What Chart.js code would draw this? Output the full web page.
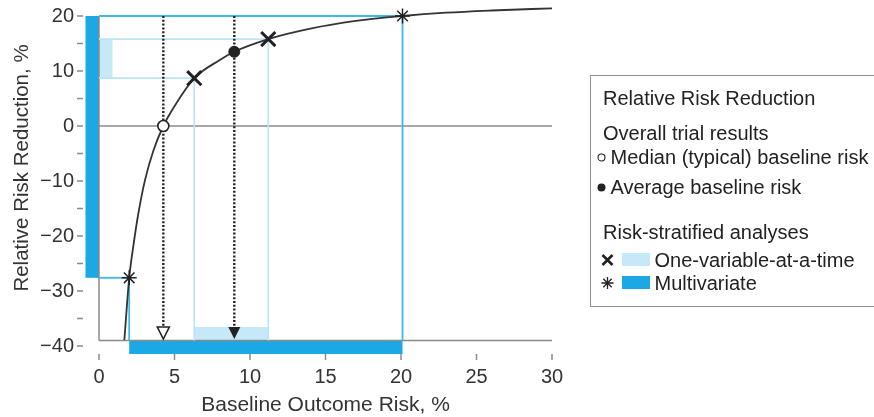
<!DOCTYPE html>
<html>
<head>
<meta charset="utf-8">
<script src="https://cdn.jsdelivr.net/npm/chart.js@4.4.1/dist/chart.umd.min.js"></script>
<style>
  html, body { margin: 0; padding: 0; background: #fff; overflow: hidden; }
  #wrap { position: relative; width: 874px; height: 417px; }
  #chart { position: absolute; left: 0; top: 0; }
  #legend {
    position: absolute; left: 590px; top: 75px; width: 300px; height: 232px;
    border: 1.5px solid #8f8f8f; border-right: none; box-sizing: border-box;
    font-family: "Liberation Sans", Arial, Helvetica, sans-serif; color: #222;
    font-size: 20px;
  }
  #legend .row { position: absolute; left: 12px; height: 24px; line-height: 24px; white-space: nowrap; }
  #legend svg { position: absolute; top: 0; }
  #legend .sw { position: absolute; top: 5.5px; width: 28px; height: 13px; }
</style>
</head>
<body>
<div id="wrap">
  <canvas id="chart" width="874" height="417"></canvas>
  <div id="legend">
    <div class="row" style="top:9.5px">Relative Risk Reduction</div>
    <div class="row" style="top:44.5px">Overall trial results</div>
    <div class="row" style="top:68.5px"><svg width="12" height="24" style="left:-7.5px"><circle cx="5.5" cy="12.5" r="3.5" fill="#fff" stroke="#222" stroke-width="1.1"/></svg><span style="margin-left:7.5px">Median (typical) baseline risk</span></div>
    <div class="row" style="top:98.5px"><svg width="12" height="24" style="left:-7.5px"><circle cx="5.5" cy="12.5" r="4" fill="#222"/></svg><span style="margin-left:7.5px">Average baseline risk</span></div>
    <div class="row" style="top:143.5px">Risk-stratified analyses</div>
    <div class="row" style="top:171.5px"><svg width="14" height="24" style="left:-2px"><path d="M1.5 7 L11.5 17 M11.5 7 L1.5 17" stroke="#222" stroke-width="2.6"/></svg><div class="sw" style="left:18.5px;background:#c6e8f8"></div><span style="margin-left:51.5px">One-variable-at-a-time</span></div>
    <div class="row" style="top:194.5px"><svg width="14" height="24" style="left:-2px"><path d="M6.5 6 L6.5 18 M0.5 12 L12.5 12 M2.3 7.8 L10.7 16.2 M10.7 7.8 L2.3 16.2" stroke="#222" stroke-width="1.3"/></svg><div class="sw" style="left:18.5px;background:#1ba8e4"></div><span style="margin-left:51.5px">Multivariate</span></div>
  </div>
</div>
<script>
// Fitted relative risk reduction curve (baseline outcome risk %, RRR %)
const curveRisk = [1.68, 2.0, 2.27, 2.6, 3.05, 3.6, 4.26, 5.0, 6.31, 8.0, 8.96, 11.21, 14.0, 17.0, 20.1, 23.0, 26.0, 30.0];
const curveRRR  = [-38.9, -27.6, -21.9, -16.0, -9.8, -4.5, 0.0, 3.6, 8.7, 12.0, 13.5, 15.8, 17.7, 19.1, 20.0, 20.6, 21.0, 21.4];

// Overall trial results: median (typical) and average baseline risk
const overallRisk = [4.26, 8.96];
const overallRRR  = [0.0, 13.5];

// Risk-stratified analyses
const oneVarRisk = [6.31, 11.21];
const oneVarRRR  = [8.7, 15.8];
const multiRisk  = [2.0, 20.1];
const multiRRR   = [-27.6, 20.0];

// Axis ticks
const xTicks = [0, 5, 10, 15, 20, 25, 30];
const yTicks = [-40, -35, -30, -25, -20, -15, -10, -5, 0, 5, 10, 15, 20];
const axisFloor = -39;

const FONT = '"Liberation Sans", Arial, Helvetica, sans-serif';
const GRAY = '#8a8a8a';
const INK = '#222';
const LIGHT = '#c6e8f8';
const LIGHT_LINE = '#b9e3f6';
const DARK = '#1ba8e4';
const DARK_LINE = '#3db8ec';

const pts = (xs, ys) => xs.map((x, i) => ({ x, y: ys[i] }));

const guides = {
  id: 'guides',
  beforeDatasetsDraw(chart) {
    const { ctx, scales: { x, y } } = chart;
    const X = v => x.getPixelForValue(v), Y = v => y.getPixelForValue(v);
    const band = 13.5;
    ctx.save();
    // one-variable ranges (light bands inside the axes)
    ctx.fillStyle = LIGHT;
    ctx.fillRect(X(0), Y(oneVarRRR[1]), band, Y(oneVarRRR[0]) - Y(oneVarRRR[1]));
    ctx.fillRect(X(oneVarRisk[0]), Y(axisFloor) - band, X(oneVarRisk[1]) - X(oneVarRisk[0]), band);
    // multivariate ranges (dark bands outside the axes)
    ctx.fillStyle = DARK;
    ctx.fillRect(X(0) - band, Y(multiRRR[1]), band, Y(multiRRR[0]) - Y(multiRRR[1]));
    ctx.fillRect(X(multiRisk[0]), Y(axisFloor), X(multiRisk[1]) - X(multiRisk[0]), band);

    const line = (x1, y1, x2, y2, color, w) => {
      ctx.strokeStyle = color; ctx.lineWidth = w;
      ctx.beginPath(); ctx.moveTo(x1, y1); ctx.lineTo(x2, y2); ctx.stroke();
    };
    // axes and zero reference
    line(X(0), Y(0), X(30), Y(0), GRAY, 1.5);
    line(X(0), Y(axisFloor), X(30), Y(axisFloor), GRAY, 1.5);
    line(X(0), Y(axisFloor), X(0), Y(20), GRAY, 1.5);

    // one-variable guide lines
    for (let i = 0; i < oneVarRisk.length; i++) {
      line(X(0), Y(oneVarRRR[i]), X(oneVarRisk[i]), Y(oneVarRRR[i]), LIGHT_LINE, 1.6);
      line(X(oneVarRisk[i]), Y(oneVarRRR[i]), X(oneVarRisk[i]), Y(axisFloor), LIGHT_LINE, 1.6);
    }
    // multivariate guide lines
    for (let i = 0; i < multiRisk.length; i++) {
      line(X(0), Y(multiRRR[i]), X(multiRisk[i]), Y(multiRRR[i]), DARK_LINE, 1.8);
      line(X(multiRisk[i]), Y(multiRRR[i]), X(multiRisk[i]), Y(axisFloor), DARK_LINE, 1.8);
    }

    // dotted arrows from the top down to the risk axis
    overallRisk.forEach((r, i) => {
      const px = X(r), tip = Y(axisFloor) - 1.5, head = 12;
      ctx.setLineDash([2, 1.8]);
      line(px, Y(20), px, tip - head, INK, 2.4);
      ctx.setLineDash([]);
      ctx.beginPath();
      ctx.moveTo(px - 6, tip - head); ctx.lineTo(px + 6, tip - head); ctx.lineTo(px, tip); ctx.closePath();
      if (i === 0) { ctx.fillStyle = '#fff'; ctx.fill(); ctx.strokeStyle = INK; ctx.lineWidth = 1.6; ctx.stroke(); }
      else { ctx.fillStyle = INK; ctx.fill(); }
    });
    ctx.restore();
  },
  afterDraw(chart) {
    const { ctx, scales: { x, y }, chartArea } = chart;
    ctx.save();
    ctx.strokeStyle = GRAY; ctx.lineWidth = 1.5;
    yTicks.forEach(v => {
      const py = y.getPixelForValue(v);
      ctx.beginPath(); ctx.moveTo(chartArea.left - 22, py); ctx.lineTo(chartArea.left - 16, py); ctx.stroke();
    });
    xTicks.forEach(v => {
      const px = x.getPixelForValue(v);
      ctx.beginPath(); ctx.moveTo(px, chartArea.bottom + 8); ctx.lineTo(px, chartArea.bottom + 14); ctx.stroke();
    });
    // axis titles
    ctx.fillStyle = '#333';
    ctx.font = '21px ' + FONT;
    ctx.textAlign = 'center'; ctx.textBaseline = 'middle';
    ctx.fillText('Baseline Outcome Risk, %', (chartArea.left + chartArea.right) / 2, 405);
    ctx.font = '20.5px ' + FONT;
    ctx.translate(22, 168);
    ctx.rotate(-Math.PI / 2);
    ctx.fillText('Relative Risk Reduction, %', 0, 0);
    ctx.restore();
  }
};

new Chart(document.getElementById('chart'), {
  type: 'scatter',
  data: {
    datasets: [
      { label: 'Median (typical) baseline risk', data: [pts(overallRisk, overallRRR)[0]], pointStyle: 'circle',
        pointRadius: 5.5, backgroundColor: '#fff', borderColor: INK, borderWidth: 1.6, order: 0, clip: false },
      { label: 'Average baseline risk', data: [pts(overallRisk, overallRRR)[1]], pointStyle: 'circle',
        pointRadius: 5.5, backgroundColor: INK, borderColor: INK, borderWidth: 1, order: 0, clip: false },
      { label: 'One-variable-at-a-time', data: pts(oneVarRisk, oneVarRRR), pointStyle: 'crossRot',
        pointRadius: 10, borderColor: INK, borderWidth: 3, order: 0, clip: false },
      { label: 'Multivariate', data: pts(multiRisk, multiRRR), pointStyle: 'star',
        pointRadius: 7.5, borderColor: INK, borderWidth: 1.5, backgroundColor: '#fff', order: 0, clip: false },
      { type: 'line', label: 'Relative risk reduction', data: pts(curveRisk, curveRRR), borderColor: '#333',
        borderWidth: 1.8, pointRadius: 0, cubicInterpolationMode: 'monotone', fill: false, order: 5, clip: false }
    ]
  },
  options: {
    responsive: false,
    animation: false,
    events: [],
    layout: { padding: { top: 16, right: 322, left: 0, bottom: 0 } },
    plugins: { legend: { display: false }, tooltip: { enabled: false } },
    scales: {
      x: {
        type: 'linear', min: 0, max: 30,
        grid: { display: false, drawTicks: false }, border: { display: false },
        ticks: { stepSize: 5, padding: 19, color: '#333', font: { family: FONT, size: 20 } },
        afterBuildTicks: s => { s.ticks = xTicks.map(v => ({ value: v })); },
        afterFit: s => { s.height = 71; s.paddingLeft = 0; s.paddingRight = 0; }
      },
      y: {
        type: 'linear', min: -40, max: 20,
        grid: { display: false, drawTicks: false }, border: { display: false },
        ticks: { padding: 25, color: '#333', font: { family: FONT, size: 20 },
          callback: v => (v % 10 === 0 ? (v < 0 ? '\u2212' + Math.abs(v) : String(v)) : '') },
        afterBuildTicks: s => { s.ticks = yTicks.map(v => ({ value: v })); },
        afterFit: s => { s.width = 99; s.paddingTop = 0; s.paddingBottom = 0; }
      }
    }
  },
  plugins: [guides]
});
</script>
</body>
</html>
